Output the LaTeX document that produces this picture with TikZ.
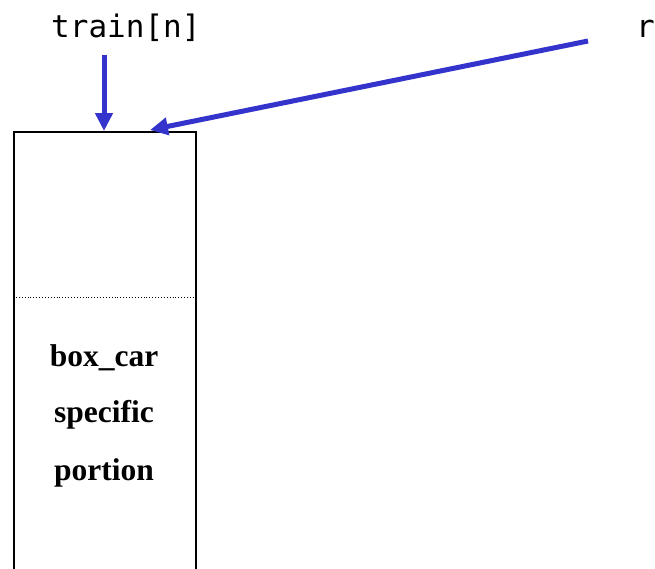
\documentclass[tikz,border=0pt]{standalone}
\usepackage{fontspec}
\setmainfont{Liberation Serif}
\setmonofont{DejaVu Sans Mono}
\usetikzlibrary{arrows.meta}
\definecolor{arrblue}{RGB}{52,52,204}
\tikzset{
  ptr/.style={draw=arrblue, line width=5pt, -{Triangle[length=18pt,width=17pt]}},
  boxlabel/.style={font=\bfseries\fontsize{31.5}{31.5}\selectfont, inner sep=0pt},
  codelabel/.style={font=\ttfamily\fontsize{31}{31}\selectfont, inner sep=0pt}
}
\begin{document}
\begin{tikzpicture}[x=1pt,y=-1pt]
\useasboundingbox (0,0) rectangle (655,568);
\clip (0,0) rectangle (655,568);
\node[draw, line width=1.8pt, minimum width=182pt, minimum height=480pt, anchor=north west, inner sep=0pt] (box) at (13,131) {};
\coordinate (dl) at (13,297);
\coordinate (dr) at (195,297);
\draw[dotted, line width=0.9pt] (dl) -- (dr);
\node[boxlabel] (t1) at (104,358) {box\_car};
\node[boxlabel] (t2) at (104,415) {specific};
\node[boxlabel] (t3) at (104,473) {portion};
\node[codelabel, anchor=base west] (train) at (51,37) {train[n]};
\node[codelabel, anchor=base west] (rr) at (636,37) {r};
\coordinate (a1s) at (104,55);
\coordinate (a1e) at (104,131);
\coordinate (a2s) at (588,41);
\coordinate (a2e) at (150,130);
\draw[ptr] (a1s) -- (a1e);
\draw[ptr] (a2s) -- (a2e);
\end{tikzpicture}
\end{document}
